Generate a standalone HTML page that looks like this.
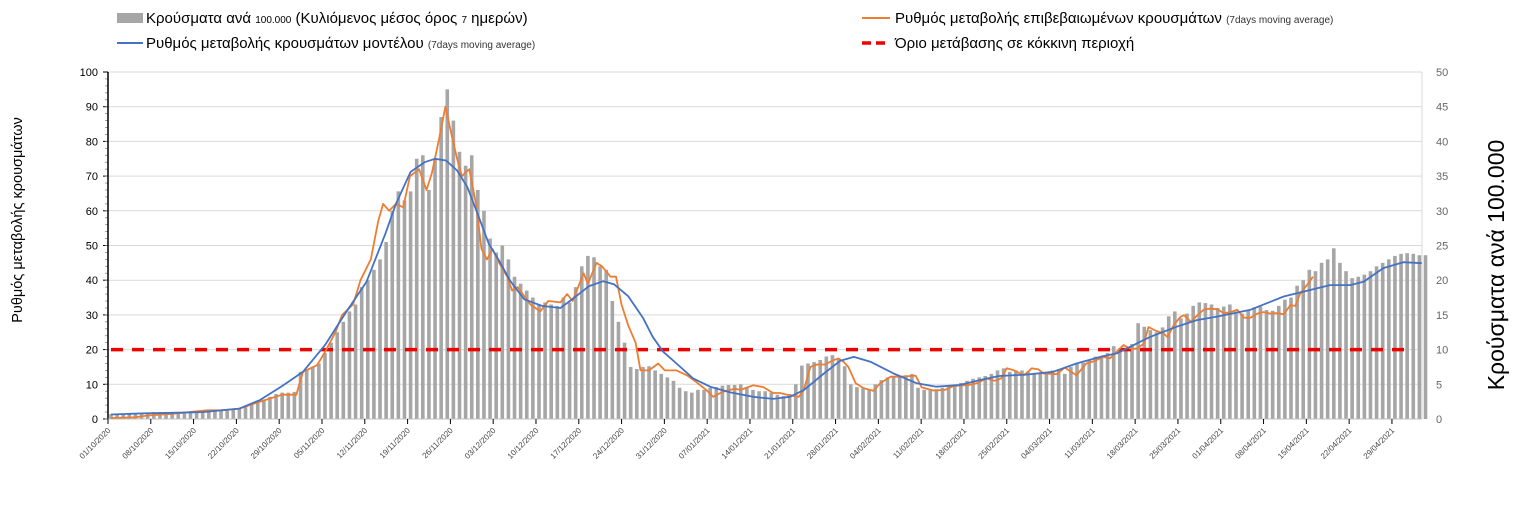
<!DOCTYPE html>
<html><head><meta charset="utf-8"><style>
body{margin:0;background:#fff;width:1523px;height:501px;overflow:hidden;font-family:"Liberation Sans",sans-serif}
svg text{font-family:"Liberation Sans","DejaVu Sans",sans-serif}
</style></head><body>
<svg id="chart" width="1523" height="501" xmlns="http://www.w3.org/2000/svg">
<g>
 <rect x="117" y="13" width="26" height="10" fill="#a6a6a6"/>
 <text x="146" y="23" font-size="15" fill="#000">Κρούσματα ανά <tspan font-size="10">100.000</tspan> (Κυλιόμενος μέσος όρος <tspan font-size="10">7</tspan> ημερών)</text>
 <line x1="117" y1="43" x2="143" y2="43" stroke="#4472c4" stroke-width="2"/>
 <text x="146" y="48" font-size="15" fill="#000">Ρυθμός μεταβολής κρουσμάτων μοντέλου <tspan font-size="10" fill="#333">(7days moving average)</tspan></text>
 <line x1="862" y1="18" x2="890" y2="18" stroke="#ed7d31" stroke-width="2"/>
 <text x="895" y="23" font-size="15" fill="#000">Ρυθμός μεταβολής επιβεβαιωμένων κρουσμάτων <tspan font-size="10" fill="#333">(7days moving average)</tspan></text>
 <line x1="862" y1="43" x2="890" y2="43" stroke="#e00" stroke-width="3.5" stroke-dasharray="9,5"/>
 <text x="895" y="48" font-size="15" fill="#000">Όριο μετάβασης σε κόκκινη περιοχή</text>
</g>
<text transform="translate(22,220) rotate(-90)" text-anchor="middle" font-size="14.5" fill="#000">Ρυθμός μεταβολής κρουσμάτων</text>
<text transform="translate(1504,265) rotate(-90)" text-anchor="middle" font-size="23" fill="#000">Κρούσματα ανά 100.000</text>
<g id="plot"></g>
</svg>
<script>
const barValues=[0.7,0.7,0.7,0.8,0.8,0.9,0.9,1,1,1,1,1,1,1,1,1.1,1.1,1.2,1.2,1.2,1.3,
1.5,1.8,2.1,2.5,2.8,3.2,3.6,3.8,3.8,3.9,
6.8,7.2,7.5,8,9.5,11,12.5,14,15.5,16.5,19,
20,21.5,23,25.5,30,32.8,31.5,32.8,37.5,
38,33,37.5,43.5,47.5,43,38.5,36.5,38,33,
30,26,24,25,23,20.5,19.5,18.5,17.5,16.5,
16.8,16.5,16.3,17.5,16.8,19,22,23.5,23.3,22,
21.5,17,14,11,7.5,7.2,7.5,7.6,7,6.5,
6,5.5,4.5,4,3.8,4.2,4.2,4.5,4.6,4.8,
4.9,4.9,5,4.6,4.2,4,4,3.8,3.5,3.3,
3.6,5,7.7,8,8.2,8.5,9,9.2,8.8,7.6,
5,4.6,4.4,4.2,5,5.6,6,6.2,6.2,6.3,
6.5,4.5,4.2,4.2,4.3,4.5,4.8,5,5.2,5.5,
5.8,6,6.2,6.5,7,7.3,6.8,7,7,6.8,
6.5,6.5,6.6,7,7.2,6.5,7.5,8,8.1,8.5,
9,8.8,9.5,10.5,10.2,10.2,10.8,13.8,13.3,12.8,
12.5,13.2,14.8,15.5,14.5,15.2,16.3,16.8,16.7,16.5,
16,16.2,16.5,15.5,15.2,15.6,16.1,16.2,15.7,15.6,
16.3,17.2,17.5,19.2,20,21.5,21.3,22.5,23,
24.6,22.5,21.3,20.3,20.5,20.8,21.3,22,22.5,23,23.5,23.8,23.9,23.8,23.6,23.6];
const orangeDays=[0,4,6,10,15.7,18,21,24.4,28,30.3,31.4,33.7,34.9,36.7,37.8,39.6,40.8,42.5,43.7,44.5,45.5,46.6,47.8,48.9,50.4,51.6,52.5,53.7,54.7,55.7,56.6,57.4,58.6,59.7,60.6,61.5,62.4,63.5,64.8,65.6,66.5,68.6,70.2,71.5,73.5,74.6,75.5,77.3,78,79.4,80.3,81.7,82.6,83.5,84.6,85.8,86.6,88,89.5,90.6,92.5,94.2,95.7,97.4,98.5,100,102,103,105,106.7,108.3,109.4,111,112.5,113.3,114.4,115.5,116.8,118.2,119,119.8,120.6,121.8,123.1,124.7,125.8,127.5,129.2,130.8,131.6,132.6,134.5,136.4,137.8,140.3,141.6,143.2,144.5,145.6,146.5,147.6,149.3,150.6,151.7,152.5,154.7,156,157.9,159.5,160.7,162.3,163.4,164.5,165.6,166.7,167.8,168.9,169.7,170.8,172.2,172.8,173.8,174.9,175.5,176.6,178,178.8,179.9,181,182,183.1,184.2,185.3,186.4,187.5,188.5,189.6,190.7,191.8,192.9,193.7,194.5,195.6,196.6];
const orangeValues=[0.3,0.5,1,1.5,2.5,2.5,3,5,7,7,13.6,15.5,19,25,30,33,40,46,57,62,60,62,61,70,72,66,71,81,90,82,75,70,72,62,49,46,49,45,41,37,38,33,31,34,33.6,36,34,42,39,45,44,41,41,33,27,22,14,14,16,14,14,12.6,10.7,8.3,6.4,7.8,8.7,8.4,9.7,9.2,7.5,7.5,6.8,6.4,8.3,15,15.7,15.7,17,17.4,16.5,15,10.3,8.9,8.1,10.3,12.2,12.2,12.4,12.5,9.1,8.2,8.4,9.5,9.8,10.3,11.7,11,11.7,14.6,14.1,12.6,14.6,14.3,13.1,12.9,14.8,12.6,16,16.6,17.9,17.5,19.4,21.3,20.3,20.3,21.7,26.5,25.5,24.6,23.6,27,29.4,29.9,28,30.4,31.6,31.8,31.6,30.5,30.8,31.5,29.2,29.2,30.4,30.8,30.4,30.5,30.2,32.8,32.6,36.2,38.6,41];
const blueDays=[0,5,10,15,21,24.4,28,31.4,35,38.3,41.8,44.9,46.6,49,51.3,53,54.8,56.6,58.3,60,61.8,63.5,65.3,67.6,70.5,73.5,75.8,78.2,80.5,82.3,84.6,87,88.6,90.3,92.5,95.2,98,101.2,105,108.3,111,113.3,116.6,119.3,121.5,124.2,128,131.8,135,138.8,142.6,145.3,149.7,154.1,157.9,162.2,164.5,167.8,170,174.3,177.6,180.9,186.4,191.8,196.2,199.4,202.7,204.9,208.1,211.4,214.4];
const blueValues=[1.3,1.6,1.8,2,3,5.5,9.5,13.6,21.3,30.4,39.6,53.5,62,71.2,74,75,74.5,71.6,66.8,59,50.5,45.6,39.8,34.5,32.6,32,35,38.3,39.7,38.8,35.4,29.2,23.7,19.4,16,11.7,9.3,7.7,6.4,5.8,6.4,8.3,13.1,16.8,17.9,16.5,13.1,10.3,9.3,9.8,11.4,12.4,12.8,13.6,16,18.1,18.9,21.8,23.7,26.6,28.5,29.5,31.5,35.3,37.2,38.6,38.6,39.6,43.5,45.2,44.9];
const xTickLabels=["01/10/2020","08/10/2020","15/10/2020","22/10/2020","29/10/2020","05/11/2020","12/11/2020","19/11/2020","26/11/2020","03/12/2020","10/12/2020","17/12/2020","24/12/2020","31/12/2020","07/01/2021","14/01/2021","21/01/2021","28/01/2021","04/02/2021","11/02/2021","18/02/2021","25/02/2021","04/03/2021","11/03/2021","18/03/2021","25/03/2021","01/04/2021","08/04/2021","15/04/2021","22/04/2021","29/04/2021"];
const leftTicks=[0,10,20,30,40,50,60,70,80,90,100];
const rightTicks=[0,5,10,15,20,25,30,35,40,45,50];
const threshold=20;

const NS="http://www.w3.org/2000/svg";
const plot=document.getElementById('plot');
const X0=108,DAYW=6.114,Y0=419,Y100=72;
function xs(d){return X0+3+d*DAYW;}
function yl(v){return Y0-(Y0-Y100)*v/100;}
function yr(v){return Y0-(Y0-Y100)*v/50;}
function mk(tag,attrs){const e=document.createElementNS(NS,tag);for(const k in attrs)e.setAttribute(k,attrs[k]);plot.appendChild(e);return e;}

leftTicks.forEach(t=>{
 const g=mk('line',{x1:X0,x2:1422,y1:yl(t),y2:yl(t),stroke:'#d9d9d9','stroke-width':1});
 
 
 const tl=mk('text',{x:X0-10,y:yl(t)+4,'text-anchor':'end','font-size':11,fill:'#000'});
 tl.textContent=t;
 
 
 const tk=mk('line',{x1:X0-5,x2:X0,y1:yl(t),y2:yl(t),stroke:'#000'});
 
 
});
for(let m=0;m<100;m+=2){const mt=mk('line',{x1:X0-3,x2:X0,y1:yl(m),y2:yl(m),stroke:'#888','stroke-width':0.8});
 
 }
rightTicks.forEach(t=>{
 const tl=mk('text',{x:1436,y:yr(t)+4,'font-size':11,fill:'#666'});
 tl.textContent=t;
 
 
});
const ra=mk('line',{x1:1422,x2:1422,y1:Y100,y2:Y0,stroke:'#d9d9d9'});



barValues.forEach((v,i)=>{
 const b=mk('rect',{x:xs(i)-1.8,y:yr(v),width:3.6,height:Y0-yr(v),fill:'#a6a6a6'});
 
 
});
const la=mk('line',{x1:X0,x2:X0,y1:Y100,y2:Y0,stroke:'#000','stroke-width':1.5});


const xa=mk('line',{x1:X0,x2:1422,y1:Y0,y2:Y0,stroke:'#bfbfbf'});



const th=mk('line',{x1:X0+3,x2:1409,y1:yl(threshold),y2:yl(threshold),stroke:'#e00','stroke-width':3.5,'stroke-dasharray':'12,9'});



function poly(days,vals,color,name){
 const p=mk('polyline',{points:days.map((d,i)=>xs(d).toFixed(1)+','+yl(vals[i]).toFixed(1)).join(' '),fill:'none',stroke:color,'stroke-width':1.8,'stroke-linejoin':'round'});
 
 
}
poly(orangeDays,orangeValues,'#ed7d31','confirmed-rate-line');
poly(blueDays,blueValues,'#4472c4','model-rate-line');

xTickLabels.forEach((s,i)=>{
 const x=X0+i*7*DAYW;
 const tk=mk('line',{x1:x,x2:x,y1:Y0,y2:Y0+5,stroke:'#000'});
 
 
 const t=mk('text',{transform:`translate(${x+3},${Y0+12}) rotate(-45)`,'text-anchor':'end','font-size':8,fill:'#444'});
 t.textContent=s;
 
 
});
</script>
</body></html>
